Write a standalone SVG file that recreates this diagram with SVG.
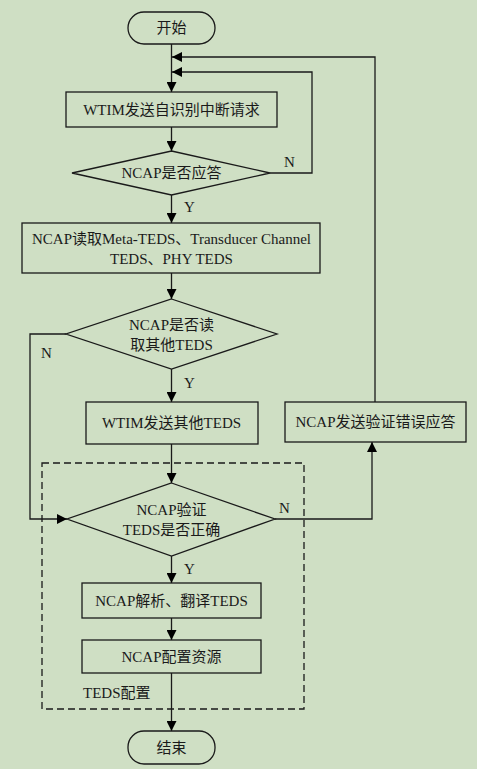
<svg xmlns="http://www.w3.org/2000/svg" width="477" height="769" viewBox="0 0 477 769">
<style>
.bg{fill:#CFDFC4}
.s{fill:none;stroke:#1a1a1a;stroke-width:1.3}
.t{font-family:"Liberation Serif","Noto Sans CJK SC",serif;font-size:15px;fill:#1a1a1a;text-anchor:middle;dominant-baseline:central}
.l{font-family:"Liberation Serif","Noto Sans CJK SC",serif;font-size:15px;fill:#1a1a1a}
.c{fill:none;stroke:#1a1a1a;stroke-width:1.3;marker-end:url(#a)}
</style>
<defs>
<marker id="a" viewBox="0 0 10 10" refX="10" refY="5" markerWidth="10" markerHeight="10" markerUnits="userSpaceOnUse" orient="auto">
<path d="M0,0 L10,5 L0,10 Z" fill="#000"/>
</marker>
</defs>
<rect class="bg" x="0" y="0" width="477" height="769"/>
<g id="teds-config">
<rect x="42" y="463" width="262" height="246" fill="none" stroke="#1a1a1a" stroke-width="1.3" stroke-dasharray="7,4"/>
<text class="l" x="83" y="698">TEDS配置</text>
</g>
<g id="connectors">
<path class="c" d="M171.5,44 V92"/>
<path class="c" d="M375,402 V57 H172"/>
<path class="c" d="M270,173 H312 V72 H172"/>
<path class="c" d="M171.5,127 V151"/>
<path class="c" d="M171.5,195 V223"/>
<path class="c" d="M171.5,273 V299"/>
<path class="c" d="M66,334 H30 V519 H67"/>
<path class="c" d="M171.5,369 V402"/>
<path class="c" d="M171.5,444 V483"/>
<path class="c" d="M275,519 H372 V442"/>
<path class="c" d="M171.5,556 V583"/>
<path class="c" d="M171.5,618 V640"/>
<path class="c" d="M171.5,673 V731"/>
<text class="l" x="284" y="167">N</text>
<text class="l" x="184" y="212">Y</text>
<text class="l" x="41" y="358">N</text>
<text class="l" x="184" y="388">Y</text>
<text class="l" x="279" y="513">N</text>
<text class="l" x="184" y="574">Y</text>
</g>
<g id="start">
<rect class="s" x="128" y="12" width="87" height="32" rx="16"/>
<text class="t" x="171.5" y="28">开始</text>
</g>
<g id="wtim-request">
<rect class="s" x="66" y="92" width="211" height="35"/>
<text class="t" x="171.5" y="110">WTIM发送自识别中断请求</text>
</g>
<g id="ncap-reply">
<polygon class="s" points="171.5,151 270,173 171.5,195 72,173"/>
<text class="t" x="171.5" y="173">NCAP是否应答</text>
</g>
<g id="ncap-read">
<rect class="s" x="22" y="223" width="298" height="50"/>
<text class="t" x="171.5" y="239">NCAP读取Meta-TEDS、Transducer Channel</text>
<text class="t" x="171.5" y="259">TEDS、PHY TEDS</text>
</g>
<g id="ncap-read-other">
<polygon class="s" points="171.5,299 277,334 171.5,369 66,334"/>
<text class="t" x="171.5" y="325">NCAP是否读</text>
<text class="t" x="171.5" y="345">取其他TEDS</text>
</g>
<g id="wtim-send-other">
<rect class="s" x="86" y="402" width="172" height="42"/>
<text class="t" x="171.5" y="423">WTIM发送其他TEDS</text>
</g>
<g id="ncap-error">
<rect class="s" x="285" y="402" width="181" height="40"/>
<text class="t" x="375.5" y="422">NCAP发送验证错误应答</text>
</g>
<g id="ncap-verify">
<polygon class="s" points="171.5,483 275,519 171.5,556 67,519"/>
<text class="t" x="171.5" y="510">NCAP验证</text>
<text class="t" x="171.5" y="530">TEDS是否正确</text>
</g>
<g id="ncap-parse">
<rect class="s" x="82" y="583" width="179" height="35"/>
<text class="t" x="171.5" y="601">NCAP解析、翻译TEDS</text>
</g>
<g id="ncap-resource">
<rect class="s" x="82" y="640" width="179" height="33"/>
<text class="t" x="171.5" y="657">NCAP配置资源</text>
</g>
<g id="end">
<rect class="s" x="128" y="731" width="87" height="33" rx="16"/>
<text class="t" x="171.5" y="748">结束</text>
</g>
</svg>
